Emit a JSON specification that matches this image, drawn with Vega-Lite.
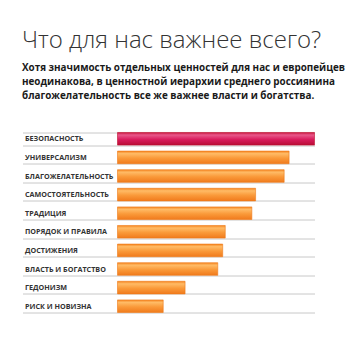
{
  "$schema": "https://vega.github.io/schema/vega-lite/v6.json",
  "width": 197,
  "height": 186,
  "autosize": {"type": "none"},
  "padding": {"left": 117.5, "top": 129.5, "right": 35.5, "bottom": 34.5},
  "background": "#ffffff",
  "title": {
    "text": "Что для нас важнее всего?",
    "subtitle": ["Хотя значимость отдельных ценностей для нас и европейцев", "неодинакова, в ценностной иерархии среднего россиянина", "благожелательность все же важнее власти и богатства."],
    "anchor": "start",
    "frame": "bounds",
    "font": "Open Sans",
    "fontSize": 24,
    "fontWeight": 300,
    "color": "#333333",
    "subtitleFont": "Open Sans",
    "subtitleFontSize": 9.9,
    "subtitleFontWeight": "bold",
    "subtitleColor": "#1a1a1a",
    "subtitleLineHeight": 14,
    "subtitlePadding": 10,
    "offset": 25
  },
  "data": {
    "values": [
      {"value": "БЕЗОПАСНОСТЬ", "score": 100, "top": "yes"},
      {"value": "УНИВЕРСАЛИЗМ", "score": 87.1, "top": "no"},
      {"value": "БЛАГОЖЕЛАТЕЛЬНОСТЬ", "score": 84.6, "top": "no"},
      {"value": "САМОСТОЯТЕЛЬНОСТЬ", "score": 70.1, "top": "no"},
      {"value": "ТРАДИЦИЯ", "score": 68.2, "top": "no"},
      {"value": "ПОРЯДОК И ПРАВИЛА", "score": 54.7, "top": "no"},
      {"value": "ДОСТИЖЕНИЯ", "score": 53.4, "top": "no"},
      {"value": "ВЛАСТЬ И БОГАТСТВО", "score": 50.9, "top": "no"},
      {"value": "ГЕДОНИЗМ", "score": 34.3, "top": "no"},
      {"value": "РИСК И НОВИЗНА", "score": 23.2, "top": "no"}
    ]
  },
  "encoding": {
    "y": {
      "field": "value",
      "type": "nominal",
      "sort": ["БЕЗОПАСНОСТЬ", "УНИВЕРСАЛИЗМ", "БЛАГОЖЕЛАТЕЛЬНОСТЬ", "САМОСТОЯТЕЛЬНОСТЬ", "ТРАДИЦИЯ", "ПОРЯДОК И ПРАВИЛА", "ДОСТИЖЕНИЯ", "ВЛАСТЬ И БОГАТСТВО", "ГЕДОНИЗМ", "РИСК И НОВИЗНА"],
      "scale": {"paddingInner": 0.32, "paddingOuter": 0.16},
      "axis": {
        "title": null,
        "domain": false,
        "tickBand": "extent",
        "ticks": true,
        "tickSize": 95,
        "tickColor": "#c8c8c8",
        "tickWidth": 1,
        "grid": true,
        "gridColor": "#c8c8c8",
        "gridWidth": 1,
        "labelAlign": "left",
        "labelPadding": -2,
        "labelFont": "Open Sans",
        "labelFontSize": 7.2,
        "labelFontWeight": "bold",
        "labelColor": "#333333"
      }
    },
    "x": {
      "field": "score",
      "type": "quantitative",
      "scale": {"domain": [0, 100], "nice": false},
      "axis": null
    }
  },
  "layer": [
    {
      "transform": [{"filter": "datum.top === 'no'"}],
      "mark": {"type": "bar", "strokeWidth": 0.6, "stroke": "#ee7a1a",
        "color": {"gradient": "linear", "x1": 0, "y1": 0, "x2": 0, "y2": 1,
          "stops": [{"offset": 0, "color": "#f5841f"}, {"offset": 0.2, "color": "#ffbb66"}, {"offset": 0.55, "color": "#fa9a3a"}, {"offset": 1, "color": "#f07a1c"}]}}
    },
    {
      "transform": [{"filter": "datum.top === 'yes'"}],
      "mark": {"type": "bar", "strokeWidth": 0.6, "stroke": "#c0102f",
        "color": {"gradient": "linear", "x1": 0, "y1": 0, "x2": 0, "y2": 1,
          "stops": [{"offset": 0, "color": "#c8103a"}, {"offset": 0.2, "color": "#e8588a"}, {"offset": 0.55, "color": "#d91c5c"}, {"offset": 1, "color": "#b80d35"}]}}
    }
  ],
  "config": {"view": {"stroke": null}}
}
